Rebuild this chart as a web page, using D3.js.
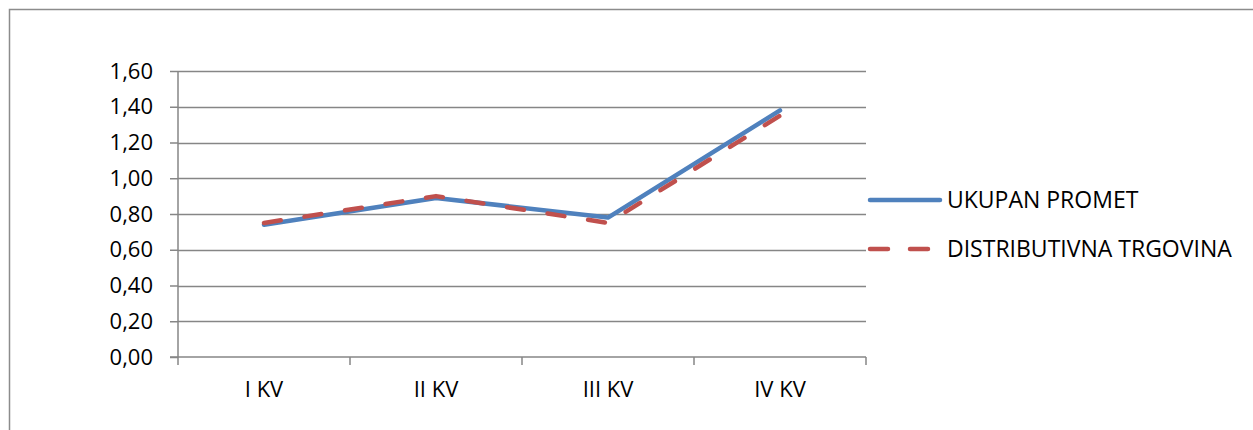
<!DOCTYPE html>
<html>
<head>
<meta charset="utf-8">
<script src="https://cdn.jsdelivr.net/npm/d3@7"></script>
<style>
  body { margin: 0; background: #fff; }
  text { font-family: "Open Sans", "Liberation Sans", sans-serif; fill: #000; }
</style>
</head>
<body>
<svg id="chart" width="1253" height="430"></svg>
<script>
(function (d3) {
    'use strict';

    var categories = ['I KV', 'II KV', 'III KV', 'IV KV'],
    seriesNames = ['UKUPAN PROMET', 'DISTRIBUTIVNA TRGOVINA'],
    ukupanPromet = [0.74, 0.89, 0.78, 1.38],
    distributivna = [0.75, 0.90, 0.75, 1.35],
    yTicks = [0, 0.2, 0.4, 0.6, 0.8, 1.0, 1.2, 1.4, 1.6];

    var svg = d3.select('#chart'),
    left = 178, right = 866, top = 71, bottom = 357,
    grid = '#868686',
    fontSize = '22px';

    // outer chart border (runs off the right and bottom edges)
    svg.append('rect')
    .attr('x', 9.5).attr('y', 9.5)
    .attr('width', 1300).attr('height', 500)
    .attr('fill', 'none')
    .attr('stroke', '#8c8c8c')
    .attr('stroke-width', 1.5);

    var x = d3.scaleBand().domain(categories).range([left, right]).padding(0);
    var y = d3.scaleLinear().domain([0, 1.6]).range([bottom, top]);

    var fmt = function (v) { return d3.format('.2f')(v).replace('.', ','); };

    // gridlines
    svg.append('g')
    .selectAll('line')
    .data(yTicks.slice(1))
    .enter()
    .append('line')
    .attr('x1', left).attr('x2', right)
    .attr('y1', function (d) { return Math.round(y(d)) + 0.5; })
    .attr('y2', function (d) { return Math.round(y(d)) + 0.5; })
    .attr('stroke', grid)
    .attr('stroke-width', 1.5);

    var yAxis = svg.append('g')
    .attr('transform', 'translate(' + left + ',0)')
    .call(d3.axisLeft(y).tickValues(yTicks).tickFormat(fmt).tickSize(8).tickPadding(17));

    var xAxis = svg.append('g')
    .attr('transform', 'translate(0,' + bottom + ')')
    .call(d3.axisBottom(x).tickSize(0).tickPadding(24));

    // category boundary ticks
    xAxis.selectAll('.bound')
    .data(d3.range(categories.length + 1))
    .enter()
    .append('line')
    .attr('class', 'bound')
    .attr('x1', function (i) { return left + i * x.bandwidth(); })
    .attr('x2', function (i) { return left + i * x.bandwidth(); })
    .attr('y1', 0).attr('y2', 8)
    .attr('stroke', grid)
    .attr('stroke-width', 1.5);

    [yAxis, xAxis].forEach(function (g) {
        g.attr('font-size', null).attr('font-family', null);
        g.select('.domain').attr('stroke', grid).attr('stroke-width', 1.5);
        g.selectAll('.tick line').attr('stroke', grid).attr('stroke-width', 1.5);
        g.selectAll('.tick text').style('font-size', fontSize).style('fill', '#000');
    });
    yAxis.select('.domain').attr('d', 'M0,' + top + 'V' + bottom);
    xAxis.select('.domain').attr('d', 'M' + (left - 8) + ',0H' + right);

    var line = d3.line()
    .x(function (d, i) { return x(categories[i]) + x.bandwidth() / 2; })
    .y(function (d) { return y(d); });

    var series = [
        { name: seriesNames[0], values: ukupanPromet, color: '#4F81BD', dash: null },
        { name: seriesNames[1], values: distributivna, color: '#C0504D', dash: '17,24' }
    ];

    series.forEach(function (s) {
        svg.append('path')
        .datum(s.values)
        .attr('d', line)
        .attr('fill', 'none')
        .attr('stroke', s.color)
        .attr('stroke-width', 4.5)
        .attr('stroke-linecap', 'round')
        .attr('stroke-linejoin', 'round')
        .attr('stroke-dasharray', s.dash);
    });

    // legend
    var legend = svg.append('g')
    .selectAll('g')
    .data(series)
    .enter()
    .append('g')
    .attr('transform', function (d, i) { return 'translate(870,' + (200 + i * 49) + ')'; });

    legend.append('line')
    .attr('x1', 0).attr('x2', 70)
    .attr('stroke', function (d) { return d.color; })
    .attr('stroke-width', 4.5)
    .attr('stroke-linecap', 'round')
    .attr('stroke-dasharray', function (d) { return d.dash ? '18,22' : null; });

    legend.append('text')
    .attr('x', 77)
    .attr('dy', '0.35em')
    .style('font-size', '23px')
    .text(function (d) { return d.name; });

})(d3);
</script>
</body>
</html>
